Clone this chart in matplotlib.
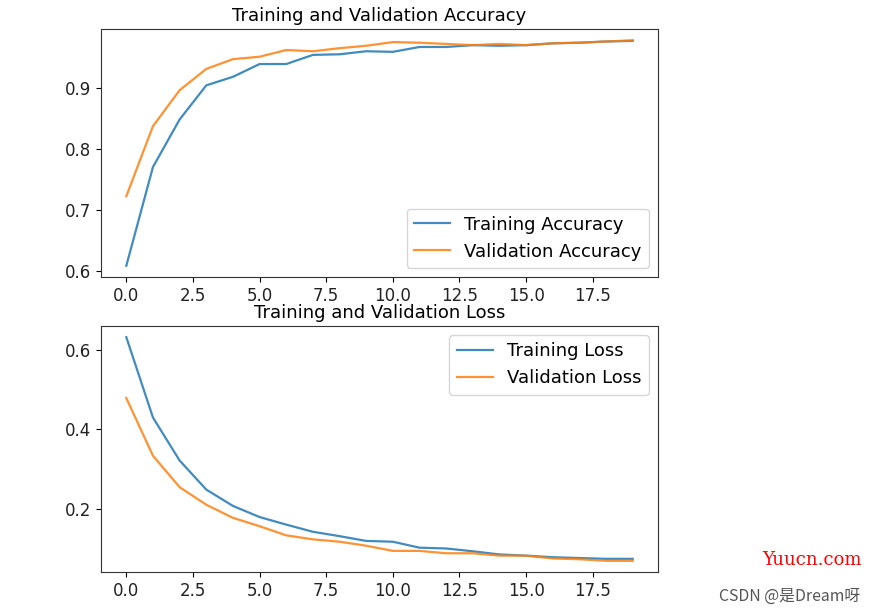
import numpy as np
import matplotlib
matplotlib.use("Agg")
import matplotlib.pyplot as plt
from matplotlib.ticker import MultipleLocator

epochs = list(range(20))
acc = [0.609, 0.771, 0.849, 0.905, 0.919, 0.940, 0.940, 0.955, 0.956, 0.961,
       0.960, 0.968, 0.968, 0.971, 0.970, 0.971, 0.974, 0.975, 0.977, 0.978]
val_acc = [0.723, 0.838, 0.897, 0.932, 0.948, 0.952, 0.963, 0.961, 0.966, 0.970,
           0.976, 0.975, 0.973, 0.971, 0.973, 0.971, 0.974, 0.975, 0.977, 0.979]
loss = [0.631, 0.429, 0.321, 0.248, 0.207, 0.179, 0.160, 0.142, 0.131, 0.119,
        0.117, 0.102, 0.100, 0.093, 0.085, 0.082, 0.078, 0.076, 0.074, 0.074]
val_loss = [0.478, 0.333, 0.254, 0.210, 0.177, 0.156, 0.133, 0.123, 0.117, 0.107,
            0.094, 0.094, 0.088, 0.088, 0.082, 0.082, 0.075, 0.073, 0.069, 0.069]

W, H = 875, 614
fig = plt.figure(figsize=(W / 100, H / 100), dpi=100)

def box(l, t, r, b):
    return [l / W, 1 - b / H, (r - l) / W, (b - t) / H]

ax1 = fig.add_axes(box(101, 29, 658, 277))
ax1.plot(epochs, acc, label='Training Accuracy', alpha=0.85, lw=1.6)
ax1.plot(epochs, val_acc, label='Validation Accuracy', alpha=0.85, lw=1.6)
ax1.legend(loc='lower right', fontsize=13)
ax1.set_title('Training and Validation Accuracy', fontsize=13)

ax2 = fig.add_axes(box(101, 326, 658, 572))
ax2.plot(epochs, loss, label='Training Loss', alpha=0.85, lw=1.6)
ax2.plot(epochs, val_loss, label='Validation Loss', alpha=0.85, lw=1.6)
ax2.legend(loc='upper right', fontsize=13)
ax2.set_title('Training and Validation Loss', fontsize=13)
ax2.yaxis.set_major_locator(MultipleLocator(0.2))

for ax in (ax1, ax2):
    ax.tick_params(labelsize=12, labelcolor='#222222')
    for s in ax.spines.values():
        s.set_color('#333333')

fig.text(862 / W, 1 - 560 / H, 'Yuucn.com', color='#ff0000', fontsize=13,
         family='DejaVu Serif', ha='right', va='center')
fig.text(860 / W, 1 - 596 / H, 'CSDN @是Dream呀', color='#555555', fontsize=11.4,
         family=['Noto Sans CJK SC', 'DejaVu Sans'], ha='right', va='center')

fig.savefig('out.png', dpi=100)
